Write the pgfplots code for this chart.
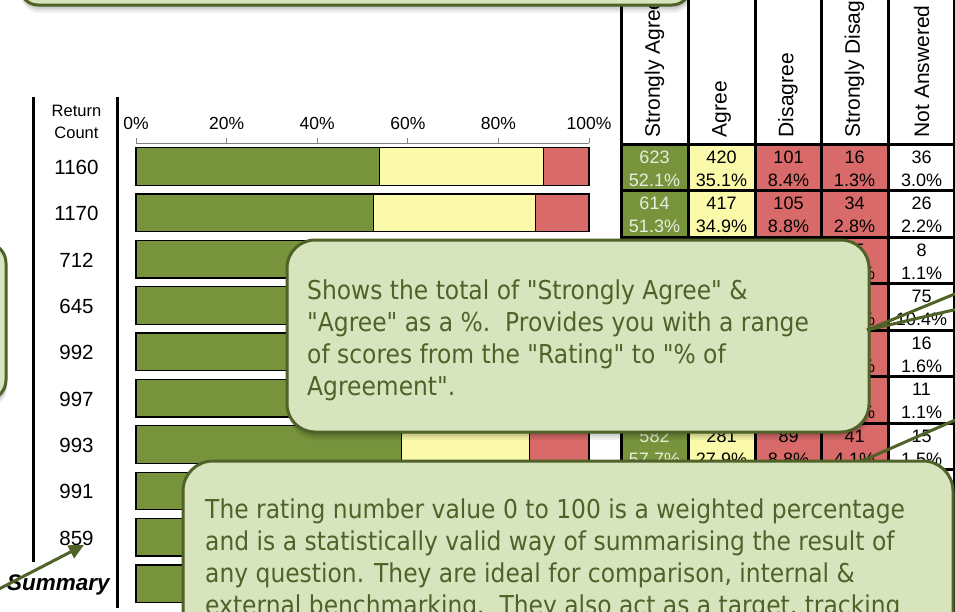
\documentclass[border=0pt]{standalone}
\usepackage{fontspec}
\setmainfont{Liberation Sans}
\newfontfamily\callfont[FakeStretch=0.9]{DejaVu Sans}
\usepackage{pgfplots}
\pgfplotsset{compat=1.18}
\usepackage{pgfplotstable}
\usetikzlibrary{arrows.meta}

\definecolor{sagreen}{RGB}{119,147,60}
\definecolor{ayellow}{RGB}{250,250,170}
\definecolor{dred}{RGB}{217,106,106}
\definecolor{cfill}{RGB}{216,228,190}
\definecolor{cline}{RGB}{79,98,40}
\definecolor{celltxt}{RGB}{232,238,222}

% percentages of return count: strongly agree, agree, disagree+strongly disagree
\pgfplotstableread{
pos sa a d
10 53.71 36.21 10.09
9 52.48 35.64 11.88
8 53.37 35.39 11.24
7 52.71 35.66 11.63
6 56.45 32.26 11.29
5 57.17 31.09 11.74
4 58.61 28.30 13.09
3 56.51 30.27 13.22
2 55.88 32.60 11.52
1 55.28 32.98 11.74
}\bars

\newcommand\cell[6]{% x, top, fill, textcolor, count, pct
  \fill[#3] (#1,#2) rectangle ++(67,46.5);
  \node[text=#4, font=\fontsize{18}{18}\selectfont, inner sep=0] at (#1+33.5,#2+13) {#5};
  \node[text=#4, font=\fontsize{18}{18}\selectfont, inner sep=0] at (#1+33.5,#2+36) {#6\%};
}
\newcommand\callout[3]{% radius, corner1, corner2
  \foreach \s/\o in {8/0.05,6/0.06,4/0.08,2/0.1} {
    \fill[black, opacity=\o, rounded corners=#1pt, shift={(1,\s)}] #2 rectangle #3;}
  \filldraw[fill=cfill, draw=cline, line width=3pt, rounded corners=#1pt] #2 rectangle #3;
}
\tikzset{ctext/.style={anchor=base west, inner sep=0, text=cline, font=\callfont\fontsize{26}{26}\selectfont}}

\begin{document}
\begin{tikzpicture}[x=1pt,y=-1pt]
\path[use as bounding box] (0,0) rectangle (955,611);
\clip (0,0) rectangle (955,611);
\fill[white] (0,0) rectangle (955,611);

\begin{axis}[
  at={(136pt,-143.3pt)}, anchor=north west,
  width=453pt, height=463.5pt, scale only axis,
  xbar stacked, bar width=37.5pt,
  xmin=0, xmax=100, ymin=0.5, ymax=10.5,
  enlargelimits=false,
  axis x line*=top, axis y line*=left,
  y axis line style={draw=none},
  x axis line style={draw=gray, line width=1pt, -},
  xtick={0,20,40,60,80,100},
  xticklabels={0\%,20\%,40\%,60\%,80\%,100\%},
  x tick label style={font=\fontsize{17.5}{17.5}\selectfont, yshift=5pt},
  xtick style={draw=gray, line width=1pt},
  tick align=outside, major tick length=5pt,
  ytick={2,...,10},
  yticklabels={859,991,993,997,992,645,712,1170,1160},
  y tick style={draw=none},
  y tick label style={font=\fontsize{20.5}{20.5}\selectfont, anchor=center, xshift=-54.5pt, yshift=-1pt},
  clip=false,
]
\addplot[fill=sagreen, draw=black, line width=1.3pt] table[x=sa, y=pos]{\bars};
\addplot[fill=ayellow, draw=black, line width=1.3pt] table[x=a, y=pos]{\bars};
\addplot[fill=dred, draw=black, line width=1.3pt] table[x=d, y=pos]{\bars};
\end{axis}

% table
\foreach \t/\sa/\psa/\ag/\pag/\di/\pdi/\sd/\psd/\na/\pna in {
  144/623/52.1/420/35.1/101/8.4/16/1.3/36/3.0,
  190.5/614/51.3/417/34.9/105/8.8/34/2.8/26/2.2,
  237/380/52.8/252/35.0/55/7.6/25/3.5/8/1.1,
  283.5/340/47.2/230/31.9/55/7.6/20/2.8/75/10.4,
  330/560/55.6/320/31.7/80/7.9/32/3.2/16/1.6,
  376.5/570/56.5/310/30.8/85/8.4/32/3.2/11/1.1,
  423/582/57.7/281/27.9/89/8.8/41/4.1/15/1.5,
  469.5/560/55.6/300/29.8/90/8.9/41/4.1/17/1.7,
  516/480/54.5/280/31.8/70/8.0/29/3.3/21/2.4,
  562.5/4709/52.8/2810/31.5/730/8.2/270/3.0/393/4.4} {
  \cell{621}{\t}{sagreen}{celltxt}{\sa}{\psa}
  \cell{688}{\t}{ayellow}{black}{\ag}{\pag}
  \cell{755}{\t}{dred}{black}{\di}{\pdi}
  \cell{821}{\t}{dred}{black}{\sd}{\psd}
  \cell{888}{\t}{white}{black}{\na}{\pna}
}
\foreach \y in {144,190.5,237,283.5,330,376.5,423,469.5,516,562.5,609}
  \draw[line width=3pt] (621,\y) -- (955,\y);
\foreach \x in {621,688,755,821,888,954}
  \draw[line width=3pt] (\x,-5) -- (\x,615);
\foreach \x/\t in {654.5/Strongly Agree,721.5/Agree,788/Disagree,854.5/Strongly Disagree,921.5/Not Answered}
  \node[rotate=90, anchor=west, inner sep=0, font=\fontsize{21}{21}\selectfont] at (\x,137.5) {\t};

% return count column
\draw[line width=3pt] (33,97) -- (33,562);
\draw[line width=3pt] (117,97) -- (117,608);
\node[align=center, inner sep=0, font=\fontsize{16.5}{22}\selectfont] at (76.5,122) {Return\\Count};
\node[inner sep=0, font=\fontsize{22.5}{22.5}\selectfont\bfseries\itshape] at (58.5,585) {Summary};

% callouts
\callout{18}{(20,-80)}{(690,5)}
\callout{20}{(-100,243)}{(6,400)}
\callout{28}{(287,240)}{(869,432)}
\draw[cline, line width=3pt] (867,330) -- (962,291);
\draw[cline, line width=3pt] (867,330) -- (962,308);
\node[ctext] at (307,299) {Shows the total of "Strongly Agree" \&};
\node[ctext] at (307,331) {"Agree" as a \%.\ \ Provides you with a range};
\node[ctext] at (307,363) {of scores from the "Rating" to "\% of};
\node[ctext] at (307,395) {Agreement".};

\draw[cline, line width=3pt] (862,461) -- (962,417);
\callout{30}{(183,461)}{(953,720)}
\node[ctext] at (205,518) {The rating number value 0 to 100 is a weighted percentage};
\node[ctext] at (205,550) {and is a statistically valid way of summarising the result of};
\node[ctext] at (205,582) {any question. They are ideal for comparison, internal \&};
\node[ctext] at (205,614) {external benchmarking.\ \ They also act as a target, tracking};

% arrow to 859
\draw[cline, line width=3pt, -{Triangle[length=15pt,width=14pt]}] (-3,590) -- (84,545);
\end{tikzpicture}
\end{document}
